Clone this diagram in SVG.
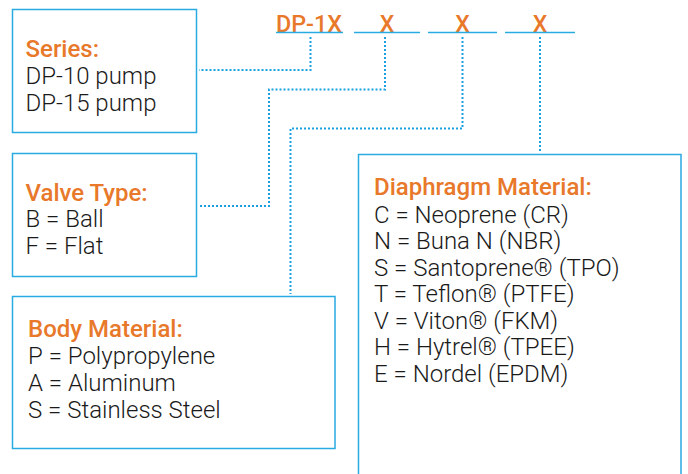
<svg xmlns="http://www.w3.org/2000/svg" width="688" height="474" viewBox="0 0 688 474">
<style>
.box{fill:#fff;stroke:#29ABE2;stroke-width:1.5}
.h{font-family:Roboto,"Liberation Sans",sans-serif;font-weight:500;font-size:24px;fill:#E8782A}
.t{font-family:Roboto,"Liberation Sans",sans-serif;font-weight:300;font-size:24px;fill:#1a1a1a}
.code{font-family:Roboto,"Liberation Sans",sans-serif;font-weight:500;font-size:23px;fill:#E8782A}
.ul{stroke:#29ABE2;stroke-width:1.5;fill:none}
.dot{stroke:#1BA1E2;stroke-width:2;fill:none;stroke-dasharray:2 2}
</style>
<rect width="688" height="474" fill="#fff"/>
<g id="code">
<text class="code" x="276" y="31.5" textLength="66" lengthAdjust="spacingAndGlyphs">DP-1X</text>
<text class="code" x="387" y="31.5" text-anchor="middle">X</text>
<text class="code" x="462.5" y="31.5" text-anchor="middle">X</text>
<text class="code" x="540" y="31.5" text-anchor="middle">X</text>
<line class="ul" x1="276" y1="32.5" x2="343" y2="32.5"/>
<line class="ul" x1="354" y1="32.5" x2="420" y2="32.5"/>
<line class="ul" x1="428" y1="32.5" x2="497" y2="32.5"/>
<line class="ul" x1="505" y1="32.5" x2="575" y2="32.5"/>
</g>
<g id="connectors">
<path class="dot" d="M310.5 37V70H199"/>
<path class="dot" d="M385 37V89.5H269V206H199"/>
<path class="dot" d="M462.5 37V128.5H290.5V294"/>
<path class="dot" d="M540 37V152"/>
</g>
<g id="series">
<rect class="box" x="12.5" y="9.5" width="184" height="123"/>
<text class="h" x="25.5" y="57">Series:</text>
<text class="t" x="25.5" y="84">DP-10 pump</text>
<text class="t" x="25.5" y="110.5">DP-15 pump</text>
</g>
<g id="valve">
<rect class="box" x="12.5" y="153.5" width="184" height="123"/>
<text class="h" x="25.5" y="200.5">Valve Type:</text>
<text class="t" x="25.5" y="227">B = Ball</text>
<text class="t" x="25.5" y="253.5">F = Flat</text>
</g>
<g id="body">
<rect class="box" x="12.5" y="296.5" width="322.5" height="152"/>
<text class="h" x="28" y="336.5">Body Material:</text>
<text class="t" x="28" y="363.5">P = Polypropylene</text>
<text class="t" x="28" y="390.5">A = Aluminum</text>
<text class="t" x="28" y="417.5">S = Stainless Steel</text>
</g>
<g id="diaphragm">
<rect class="box" x="358.5" y="154.5" width="322.5" height="330"/>
<text class="h" x="374" y="195">Diaphragm Material:</text>
<text class="t" x="374" y="222.5">C = Neoprene (CR)</text>
<text class="t" x="374" y="249">N = Buna N (NBR)</text>
<text class="t" x="374" y="275.5">S = Santoprene® (TPO)</text>
<text class="t" x="374" y="302">T = Teflon® (PTFE)</text>
<text class="t" x="374" y="328.5">V = Viton® (FKM)</text>
<text class="t" x="374" y="355">H = Hytrel® (TPEE)</text>
<text class="t" x="374" y="381.5">E = Nordel (EPDM)</text>
</g>
</svg>
